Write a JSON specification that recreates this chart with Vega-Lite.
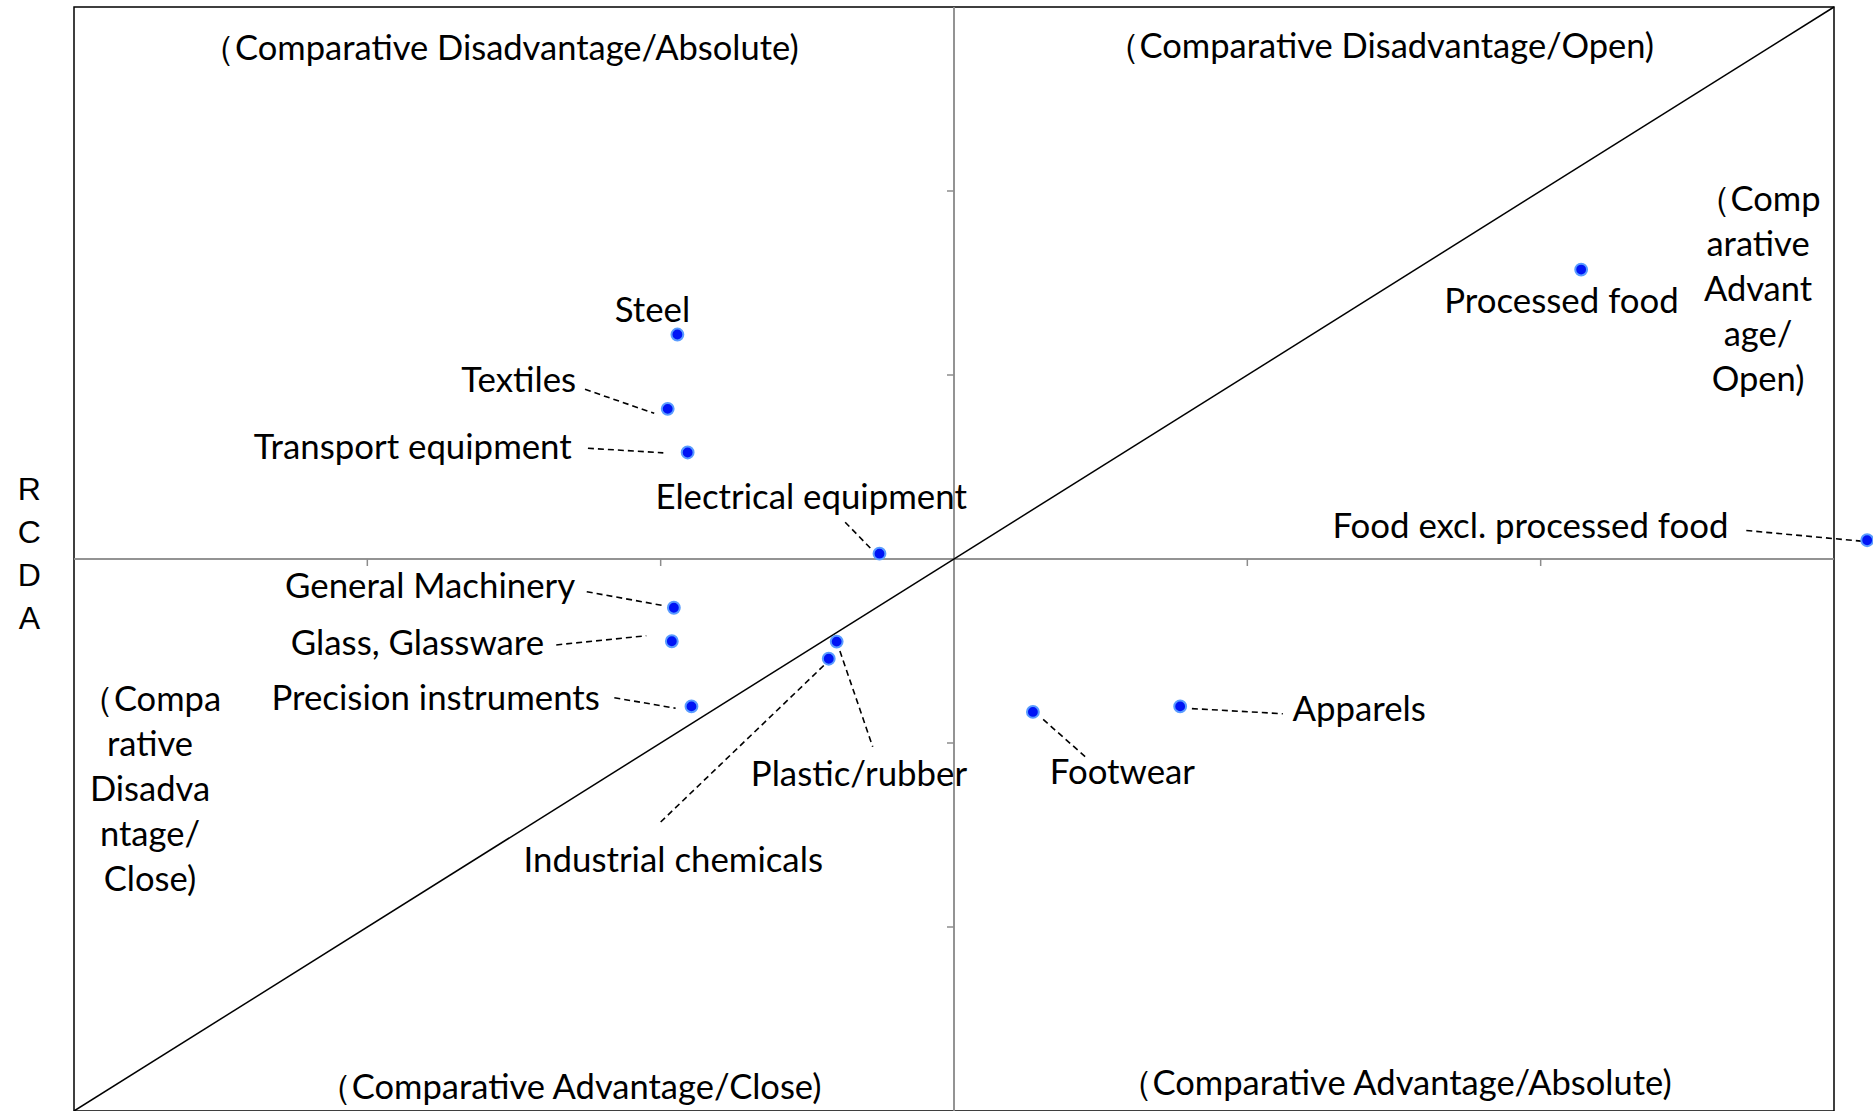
{
  "$schema": "https://vega.github.io/schema/vega-lite/v6.json",
  "width": 1760,
  "height": 1104,
  "autosize": {"type": "none"},
  "padding": {"left": 74, "top": 7, "right": 39, "bottom": 0},
  "background": "white",
  "config": {
    "view": {"stroke": "#000000", "strokeWidth": 1.5},
    "font": "Lato"
  },
  "datasets": {
    "diag": [{"x": -3, "y": -3}, {"x": 3, "y": 3}],
    "ticks": [{"v": -2}, {"v": -1}, {"v": 1}, {"v": 2}],
    "points": [
      {"name": "Steel", "x": -0.943, "y": 1.22, "lx": -1.028, "ly": 1.343},
      {"name": "Textiles", "x": -0.976, "y": 0.816, "lx": -1.484, "ly": 0.961},
      {"name": "Transport equipment", "x": -0.908, "y": 0.579, "lx": -1.845, "ly": 0.597},
      {"name": "Electrical equipment", "x": -0.254, "y": 0.029, "lx": -0.487, "ly": 0.324},
      {"name": "General Machinery", "x": -0.955, "y": -0.265, "lx": -1.786, "ly": -0.156},
      {"name": "Glass, Glassware", "x": -0.962, "y": -0.447, "lx": -1.829, "ly": -0.467},
      {"name": "Precision instruments", "x": -0.895, "y": -0.801, "lx": -1.767, "ly": -0.766},
      {"name": "Plastic/rubber", "x": -0.4, "y": -0.449, "lx": -0.324, "ly": -1.182},
      {"name": "Industrial chemicals", "x": -0.427, "y": -0.542, "lx": -0.957, "ly": -1.649},
      {"name": "Footwear", "x": 0.269, "y": -0.831, "lx": 0.574, "ly": -1.168},
      {"name": "Apparels", "x": 0.771, "y": -0.801, "lx": 1.381, "ly": -0.824},
      {"name": "Processed food", "x": 2.138, "y": 1.573, "lx": 2.071, "ly": 1.389},
      {"name": "Food excl.  processed food", "x": 3.113, "y": 0.102, "lx": 1.965, "ly": 0.168}
    ],
    "leaders": [
      {"name": "Textiles", "x": -1.258, "y": 0.922, "x2": -1.022, "y2": 0.792},
      {"name": "Transport equipment", "x": -1.248, "y": 0.602, "x2": -0.991, "y2": 0.577},
      {"name": "Electrical equipment", "x": -0.371, "y": 0.2, "x2": -0.285, "y2": 0.059},
      {"name": "General Machinery", "x": -1.252, "y": -0.178, "x2": -0.991, "y2": -0.253},
      {"name": "Glass, Glassware", "x": -1.356, "y": -0.467, "x2": -1.049, "y2": -0.417},
      {"name": "Precision instruments", "x": -1.158, "y": -0.754, "x2": -0.949, "y2": -0.811},
      {"name": "Plastic/rubber", "x": -0.4, "y": -0.449, "x2": -0.277, "y2": -1.021},
      {"name": "Industrial chemicals", "x": -0.444, "y": -0.579, "x2": -1.007, "y2": -1.44},
      {"name": "Footwear", "x": 0.304, "y": -0.872, "x2": 0.45, "y2": -1.078},
      {"name": "Apparels", "x": 0.811, "y": -0.813, "x2": 1.121, "y2": -0.841},
      {"name": "Food excl. processed food", "x": 2.701, "y": 0.155, "x2": 3.092, "y2": 0.097}
    ],
    "quadrants": [
      {"t": "（Comparative Disadvantage/Absolute)", "x": -1.55, "y": 2.766},
      {"t": "（Comparative Disadvantage/Open)", "x": 1.45, "y": 2.778},
      {"t": "（Comparative Advantage/Close)", "x": -1.312, "y": -2.883},
      {"t": "（Comparative Advantage/Absolute)", "x": 1.502, "y": -2.857},
      {"t": "（Comp\narative\nAdvant\nage/\nOpen)", "x": 2.741, "y": 1.947},
      {"t": "（Compa\nrative\nDisadva\nntage/\nClose)", "x": -2.741, "y": -0.773}
    ],
    "ytitle": [{"t": "R\nC\nD\nA", "x": -3.152, "y": 0.375}]
  },
  "layer": [
    {
      "data": {"name": "diag"},
      "mark": {"type": "rule", "color": "#8c8c8c", "strokeWidth": 1.5},
      "encoding": {
        "x": {"datum": 0, "type": "quantitative", "scale": {"domain": [-3, 3], "nice": false, "zero": false}, "axis": null}
      }
    },
    {
      "data": {"name": "diag"},
      "mark": {"type": "rule", "color": "#8c8c8c", "strokeWidth": 1.5},
      "encoding": {
        "y": {"datum": 0, "type": "quantitative", "scale": {"domain": [-3, 3], "nice": false, "zero": false}, "axis": null}
      }
    },
    {
      "data": {"name": "ticks"},
      "mark": {"type": "rule", "color": "#8c8c8c", "strokeWidth": 1.5},
      "encoding": {
        "x": {"field": "v", "type": "quantitative", "scale": {"domain": [-3, 3], "nice": false, "zero": false}, "axis": null},
        "y": {"datum": 0, "type": "quantitative", "scale": {"domain": [-3, 3], "nice": false, "zero": false}, "axis": null},
        "y2": {"datum": -0.038}
      }
    },
    {
      "data": {"name": "ticks"},
      "mark": {"type": "rule", "color": "#8c8c8c", "strokeWidth": 1.5},
      "encoding": {
        "y": {"field": "v", "type": "quantitative", "scale": {"domain": [-3, 3], "nice": false, "zero": false}, "axis": null},
        "x": {"datum": 0, "type": "quantitative", "scale": {"domain": [-3, 3], "nice": false, "zero": false}, "axis": null},
        "x2": {"datum": -0.024}
      }
    },
    {
      "data": {"name": "diag"},
      "mark": {"type": "line", "color": "#000000", "strokeWidth": 1.5},
      "encoding": {
        "x": {"field": "x", "type": "quantitative", "scale": {"domain": [-3, 3], "nice": false, "zero": false}, "axis": null},
        "y": {"field": "y", "type": "quantitative", "scale": {"domain": [-3, 3], "nice": false, "zero": false}, "axis": null}
      }
    },
    {
      "data": {"name": "leaders"},
      "mark": {"type": "rule", "color": "#000000", "strokeWidth": 1.6, "strokeDash": [6, 4]},
      "encoding": {
        "x": {"field": "x", "type": "quantitative", "scale": {"domain": [-3, 3], "nice": false, "zero": false}, "axis": null},
        "y": {"field": "y", "type": "quantitative", "scale": {"domain": [-3, 3], "nice": false, "zero": false}, "axis": null},
        "x2": {"field": "x2"},
        "y2": {"field": "y2"}
      }
    },
    {
      "data": {"name": "points"},
      "mark": {"type": "point", "shape": "circle", "filled": true, "size": 140, "fill": "#0014f5", "stroke": "#5a9cff", "strokeWidth": 2, "opacity": 1},
      "encoding": {
        "x": {"field": "x", "type": "quantitative", "scale": {"domain": [-3, 3], "nice": false, "zero": false}, "axis": null},
        "y": {"field": "y", "type": "quantitative", "scale": {"domain": [-3, 3], "nice": false, "zero": false}, "axis": null}
      }
    },
    {
      "data": {"name": "points"},
      "mark": {"type": "text", "fontSize": 34.8, "color": "#000000", "align": "center", "baseline": "middle"},
      "encoding": {
        "x": {"field": "lx", "type": "quantitative", "scale": {"domain": [-3, 3], "nice": false, "zero": false}, "axis": null},
        "y": {"field": "ly", "type": "quantitative", "scale": {"domain": [-3, 3], "nice": false, "zero": false}, "axis": null},
        "text": {"field": "name", "type": "nominal"}
      }
    },
    {
      "data": {"name": "quadrants"},
      "mark": {"type": "text", "fontSize": 34.5, "color": "#000000", "align": "center", "baseline": "middle", "lineBreak": "\n", "lineHeight": 45},
      "encoding": {
        "x": {"field": "x", "type": "quantitative", "scale": {"domain": [-3, 3], "nice": false, "zero": false}, "axis": null},
        "y": {"field": "y", "type": "quantitative", "scale": {"domain": [-3, 3], "nice": false, "zero": false}, "axis": null},
        "text": {"field": "t", "type": "nominal"}
      }
    },
    {
      "data": {"name": "ytitle"},
      "mark": {"type": "text", "font": "Liberation Sans", "fontSize": 32, "color": "#000000", "align": "center", "baseline": "middle", "lineBreak": "\n", "lineHeight": 43},
      "encoding": {
        "x": {"field": "x", "type": "quantitative", "scale": {"domain": [-3, 3], "nice": false, "zero": false}, "axis": null},
        "y": {"field": "y", "type": "quantitative", "scale": {"domain": [-3, 3], "nice": false, "zero": false}, "axis": null},
        "text": {"field": "t", "type": "nominal"}
      }
    }
  ]
}
